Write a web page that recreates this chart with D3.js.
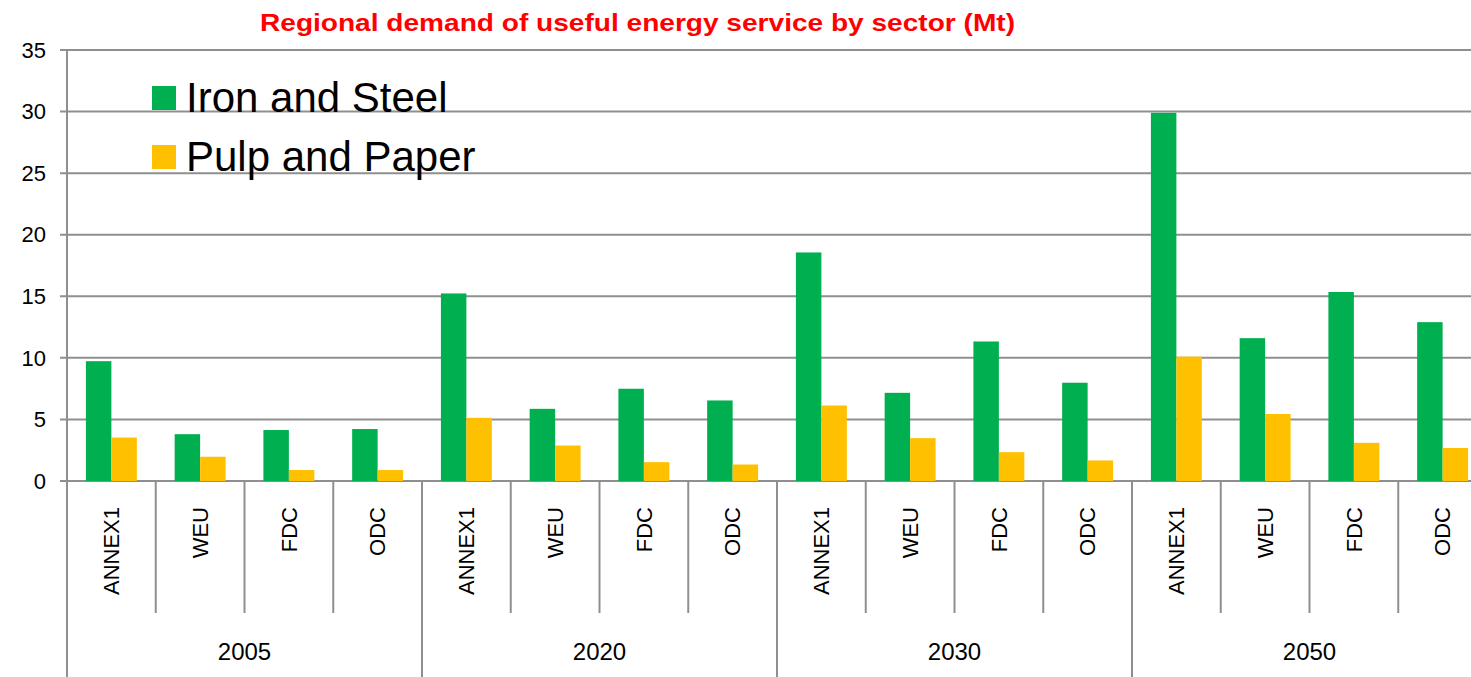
<!DOCTYPE html>
<html>
<head>
<meta charset="utf-8">
<script src="https://cdn.jsdelivr.net/npm/d3@7.9.0/dist/d3.min.js"></script>
<style>
  body { margin: 0; background: #fff; }
  svg { display: block; font-family: "Liberation Sans", Arial, sans-serif; }
</style>
</head>
<body>
<div id="chart"></div>
<script>
// data
const years = ["2005", "2020", "2030", "2050"];
const regions = ["ANNEX1", "WEU", "FDC", "ODC"];
const series = ["Iron and Steel", "Pulp and Paper"];
const ironSteel = [9.73, 3.8, 4.14, 4.22, 15.23, 5.86, 7.49, 6.54, 18.56, 7.16, 11.33, 7.98, 29.9, 11.6, 15.35, 12.9];
const pulpPaper = [3.53, 1.97, 0.89, 0.89, 5.13, 2.88, 1.53, 1.34, 6.13, 3.48, 2.34, 1.67, 10.1, 5.44, 3.1, 2.68];
const yTicks = [0, 5, 10, 15, 20, 25, 30, 35];
const colors = ["#00B050", "#FFC000"];

const width = 1471, height = 677;
const plotLeft = 67, plotRight = 1487, plotTop = 50, base = 481;

// one row per category (year x region)
const rows = [];
years.forEach((yr, i) => regions.forEach((rg, j) => {
  const k = i * regions.length + j;
  rows.push({ key: yr + "-" + rg, year: yr, region: rg, values: [ironSteel[k], pulpPaper[k]] });
}));

const svg = d3.select("#chart").append("svg")
  .attr("width", width).attr("height", height);

const y = d3.scaleLinear().domain([0, 35]).range([base, plotTop]);
const x0 = d3.scaleBand().domain(rows.map(d => d.key)).range([plotLeft, plotRight]);
const gap = x0.bandwidth() * 0.213;
const x1 = d3.scaleBand().domain(series).range([gap, x0.bandwidth() - gap]);
const xYear = d3.scaleBand().domain(years).range([plotLeft, plotRight]);

// gridlines + y ticks
svg.append("g").selectAll("line")
  .data(yTicks).enter().append("line")
  .attr("x1", plotLeft - 7).attr("x2", width)
  .attr("y1", d => y(d)).attr("y2", d => y(d))
  .attr("stroke", "#8f8f8f").attr("stroke-width", 2);

svg.append("g").selectAll("text")
  .data(yTicks).enter().append("text")
  .attr("x", 46).attr("y", d => y(d))
  .attr("dy", "0.35em")
  .attr("text-anchor", "end")
  .attr("font-size", 22)
  .attr("fill", "#000")
  .text(d => d);

// bars
const groups = svg.append("g").selectAll("g")
  .data(rows).enter().append("g")
  .attr("transform", d => `translate(${x0(d.key)},0)`);

groups.selectAll("rect")
  .data(d => d.values.map((v, i) => ({ name: series[i], value: v, i })))
  .enter().append("rect")
  .attr("x", d => x1(d.name))
  .attr("width", x1.bandwidth())
  .attr("y", d => y(d.value))
  .attr("height", d => base - y(d.value))
  .attr("fill", d => colors[d.i]);

// y axis line
svg.append("line")
  .attr("x1", plotLeft).attr("x2", plotLeft)
  .attr("y1", plotTop).attr("y2", height)
  .attr("stroke", "#8f8f8f").attr("stroke-width", 2);

// category separators
svg.append("g").selectAll("line")
  .data(rows.slice(1)).enter().append("line")
  .attr("x1", d => x0(d.key)).attr("x2", d => x0(d.key))
  .attr("y1", base).attr("y2", d => d.region === regions[0] ? height : 613)
  .attr("stroke", "#8f8f8f").attr("stroke-width", 2);

// region labels, rotated
svg.append("g").selectAll("text")
  .data(rows).enter().append("text")
  .attr("transform", d => `translate(${x0(d.key) + x0.bandwidth() / 2},507) rotate(-90)`)
  .attr("dy", "0.35em")
  .attr("text-anchor", "end")
  .attr("font-size", 22)
  .text(d => d.region);

// year labels
svg.append("g").selectAll("text")
  .data(years).enter().append("text")
  .attr("x", d => xYear(d) + xYear.bandwidth() / 2)
  .attr("y", 652)
  .attr("dy", "0.35em")
  .attr("text-anchor", "middle")
  .attr("font-size", 24)
  .text(d => d);

// title
svg.append("text")
  .attr("x", 260).attr("y", 31)
  .attr("font-size", 24)
  .attr("font-weight", "bold")
  .attr("fill", "#FF0000")
  .attr("textLength", 755)
  .attr("lengthAdjust", "spacingAndGlyphs")
  .text("Regional demand of useful energy service by sector (Mt)");

// legend
const legend = svg.append("g").selectAll("g")
  .data(series).enter().append("g")
  .attr("transform", (d, i) => `translate(152,${86 + i * 59})`);
legend.append("rect")
  .attr("width", 24).attr("height", 24)
  .attr("fill", (d, i) => colors[i]);
legend.append("text")
  .attr("x", 34).attr("y", 26)
  .attr("font-size", 42)
  .text(d => d);
</script>
</body>
</html>
